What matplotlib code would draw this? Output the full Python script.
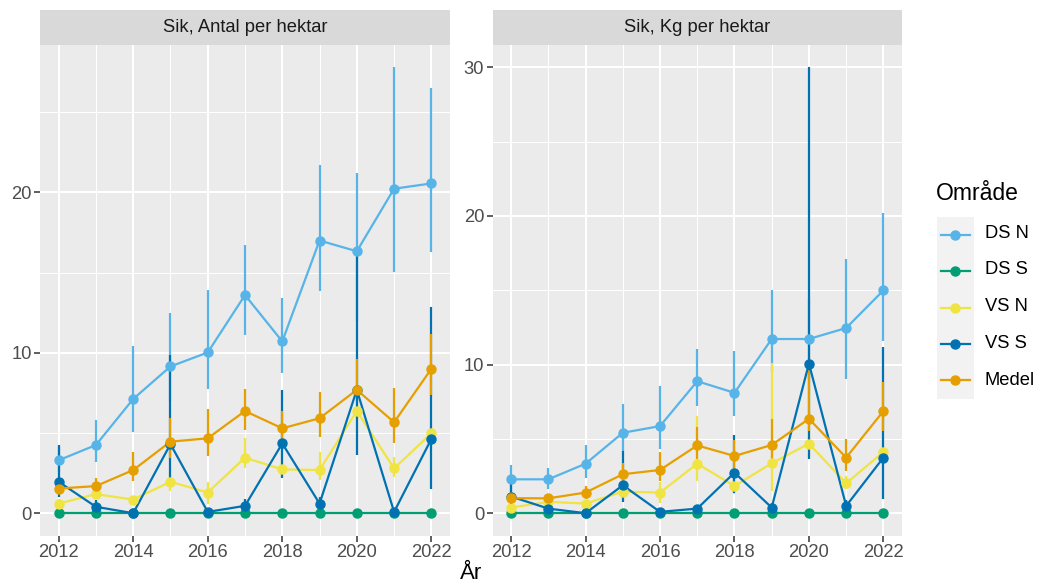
import matplotlib
matplotlib.use("Agg")
import matplotlib.pyplot as plt
import numpy as np

plt.rcParams['font.family'] = ['Liberation Sans', 'DejaVu Sans']

years = [2012, 2013, 2014, 2015, 2016, 2017, 2018, 2019, 2020, 2021, 2022]
groups = ["DS N", "DS S", "VS N", "VS S", "Medel"]
colors = {"DS N": "#56B4E9", "DS S": "#009E73", "VS N": "#F0E442",
          "VS S": "#0072B2", "Medel": "#E69F00"}
panel_titles = ["Sik, Antal per hektar", "Sik, Kg per hektar"]

# ---- Panel 1: Antal per hektar ----
antal_dsn = [3.3, 4.25, 7.12, 9.15, 10.02, 13.6, 10.71, 17.0, 16.33, 20.23, 20.56]
antal_dsn_lo = [2.6, 3.2, 5.08, 7.0, 7.73, 11.1, 8.73, 13.83, 12.0, 15.04, 16.3]
antal_dsn_hi = [4.1, 5.81, 10.4, 12.48, 13.94, 16.75, 13.4, 21.7, 21.2, 27.8, 26.5]
antal_dss = [0, 0, 0, 0, 0, 0, 0, 0, 0, 0, 0]
antal_dss_lo = [0, 0, 0, 0, 0, 0, 0, 0, 0, 0, 0]
antal_dss_hi = [0, 0, 0, 0, 0, 0, 0, 0, 0, 0, 0]
antal_vsn = [0.6, 1.19, 0.85, 1.96, 1.29, 3.46, 2.73, 2.69, 6.37, 2.79, 4.98]
antal_vsn_lo = [0.3, 0.9, 0.6, 1.4, 0.6, 2.8, 2.2, 2.06, 5.0, 2.27, 4.0]
antal_vsn_hi = [0.9, 1.5, 1.1, 2.6, 1.96, 4.67, 3.3, 3.83, 7.5, 3.52, 5.5]
antal_vss = [1.96, 0.4, 0.0, 4.31, 0.08, 0.46, 4.35, 0.6, 7.69, 0.08, 4.63]
antal_vss_lo = [1.02, 0.1, 0.0, 1.65, 0.0, 0.1, 2.17, 0.2, 3.63, 0.0, 1.54]
antal_vss_hi = [4.25, 0.8, 0.0, 9.87, 0.2, 0.9, 7.69, 1.0, 16.1, 0.2, 12.83]
antal_medel = [1.54, 1.69, 2.69, 4.46, 4.67, 6.37, 5.29, 5.92, 7.69, 5.67, 9.0]
antal_medel_lo = [1.2, 1.33, 2.02, 3.42, 3.56, 5.2, 4.56, 4.77, 7.4, 4.35, 7.38]
antal_medel_hi = [1.9, 2.17, 3.83, 5.92, 6.48, 7.73, 6.37, 7.54, 9.6, 7.79, 11.19]

# ---- Panel 2: Kg per hektar ----
kg_dsn = [2.28, 2.28, 3.33, 5.41, 5.86, 8.88, 8.1, 11.72, 11.72, 12.46, 14.99]
kg_dsn_lo = [1.39, 1.66, 2.39, 4.2, 4.3, 7.2, 6.53, 9.5, 9.0, 9.04, 11.57]
kg_dsn_hi = [3.24, 3.02, 4.59, 7.32, 8.55, 11.07, 10.9, 15.03, 14.5, 17.1, 20.18]
kg_dss = [0, 0, 0, 0, 0, 0, 0, 0, 0, 0, 0]
kg_dss_lo = [0, 0, 0, 0, 0, 0, 0, 0, 0, 0, 0]
kg_dss_hi = [0, 0, 0, 0, 0, 0, 0, 0, 0, 0, 0]
kg_vsn = [0.38, 0.76, 0.65, 1.45, 1.39, 3.33, 1.83, 3.36, 4.68, 2.01, 4.12]
kg_vsn_lo = [0.1, 0.5, 0.4, 1.0, 0.7, 2.17, 1.3, 1.5, 3.8, 1.6, 3.5]
kg_vsn_hi = [0.7, 1.0, 0.9, 1.9, 2.1, 6.53, 2.3, 10.1, 5.6, 2.5, 4.8]
kg_vss = [1.12, 0.31, 0.0, 1.88, 0.09, 0.31, 2.73, 0.38, 10.07, 0.49, 3.74]
kg_vss_lo = [0.49, 0.1, 0.0, 0.76, 0.0, 0.1, 1.39, 0.1, 3.62, 0.1, 0.98]
kg_vss_hi = [2.17, 0.5, 0.0, 4.18, 0.2, 0.5, 5.26, 0.7, 30.0, 0.9, 11.16]
kg_medel = [1.01, 1.0, 1.39, 2.62, 2.91, 4.56, 3.85, 4.59, 6.35, 3.74, 6.87]
kg_medel_lo = [0.7, 0.8, 0.98, 2.0, 2.17, 3.62, 3.0, 3.6, 5.5, 2.84, 5.52]
kg_medel_hi = [1.4, 1.25, 1.83, 3.4, 4.12, 5.79, 4.9, 6.31, 9.66, 4.97, 8.84]

panels = [
    {"DS N": (antal_dsn, antal_dsn_lo, antal_dsn_hi),
     "DS S": (antal_dss, antal_dss_lo, antal_dss_hi),
     "VS N": (antal_vsn, antal_vsn_lo, antal_vsn_hi),
     "VS S": (antal_vss, antal_vss_lo, antal_vss_hi),
     "Medel": (antal_medel, antal_medel_lo, antal_medel_hi)},
    {"DS N": (kg_dsn, kg_dsn_lo, kg_dsn_hi),
     "DS S": (kg_dss, kg_dss_lo, kg_dss_hi),
     "VS N": (kg_vsn, kg_vsn_lo, kg_vsn_hi),
     "VS S": (kg_vss, kg_vss_lo, kg_vss_hi),
     "Medel": (kg_medel, kg_medel_lo, kg_medel_hi)},
]
ylims = [(-1.39, 29.19), (-1.5, 31.5)]
yticks = [[0, 10, 20], [0, 10, 20, 30]]
yminor = [[5, 15, 25], [5, 15, 25]]

W, H = 1037, 586
fig = plt.figure(figsize=(W / 100, H / 100), dpi=100)
fig.patch.set_facecolor("white")


def px_axes(x0, y0, x1, y1):
    return fig.add_axes([x0 / W, 1 - y1 / H, (x1 - x0) / W, (y1 - y0) / H])


panel_px = [(40, 45, 450, 535.5), (492.5, 45, 902, 535.5)]
strip_top = 9.5

for i, (x0, y0, x1, y1) in enumerate(panel_px):
    ax = px_axes(x0, y0, x1, y1)
    ax.set_facecolor("#EBEBEB")
    for s in ax.spines.values():
        s.set_visible(False)
    ax.set_xlim(2011.5, 2022.5)
    ax.set_ylim(*ylims[i])
    ax.set_xticks([2012, 2014, 2016, 2018, 2020, 2022])
    ax.set_xticks([2013, 2015, 2017, 2019, 2021], minor=True)
    ax.set_yticks(yticks[i])
    ax.set_yticks(yminor[i], minor=True)
    ax.grid(True, which="major", color="white", linewidth=1.5)
    ax.grid(True, which="minor", color="white", linewidth=0.75)
    ax.set_axisbelow(True)
    ax.tick_params(which="major", length=4, width=1.1, color="#333333",
                   labelcolor="#4D4D4D", labelsize=13.2, pad=2)
    ax.tick_params(which="minor", length=0)
    data = panels[i]
    for g in groups:
        v, lo, hi = data[g]
        ax.vlines(years, lo, hi, color=colors[g], linewidth=1.6, zorder=2)
    for g in groups:
        v, lo, hi = data[g]
        ax.plot(years, v, color=colors[g], linewidth=1.6, zorder=3)
    for g in groups:
        v, lo, hi = data[g]
        ax.plot(years, v, linestyle="none", marker="o", markersize=6.5,
                color=colors[g], zorder=4)
    # strip
    sax = px_axes(x0, strip_top, x1, y0)
    sax.set_facecolor("#D9D9D9")
    sax.set_xticks([])
    sax.set_yticks([])
    for s in sax.spines.values():
        s.set_visible(False)
    sax.text(0.5, 0.5, panel_titles[i], ha="center", va="center",
             fontsize=13.2, color="#1A1A1A", transform=sax.transAxes)

fig.text(471 / W, 1 - 584 / H, "År", ha="center", va="bottom", fontsize=16,
         color="black")

# legend
fig.text(936 / W, 1 - 194 / H, "Område", ha="left", va="center", fontsize=16.5,
         color="black")
lax = px_axes(937, 216.5, 973.5, 398.5)
lax.set_facecolor("#F2F2F2")
for s in lax.spines.values():
    s.set_visible(False)
lax.set_xticks([])
lax.set_yticks([])
lax.set_xlim(0, 1)
lax.set_ylim(5, 0)
for k, g in enumerate(groups):
    yc = k + 0.5
    lax.plot([0.1, 0.9], [yc, yc], color=colors[g], linewidth=1.6)
    lax.plot([0.5], [yc], marker="o", markersize=6.5, color=colors[g])
    fig.text(985 / W, 1 - (233 + k * 36.8) / H, g, ha="left", va="center",
             fontsize=13.2, color="black")

fig.savefig("out.png", dpi=100)
